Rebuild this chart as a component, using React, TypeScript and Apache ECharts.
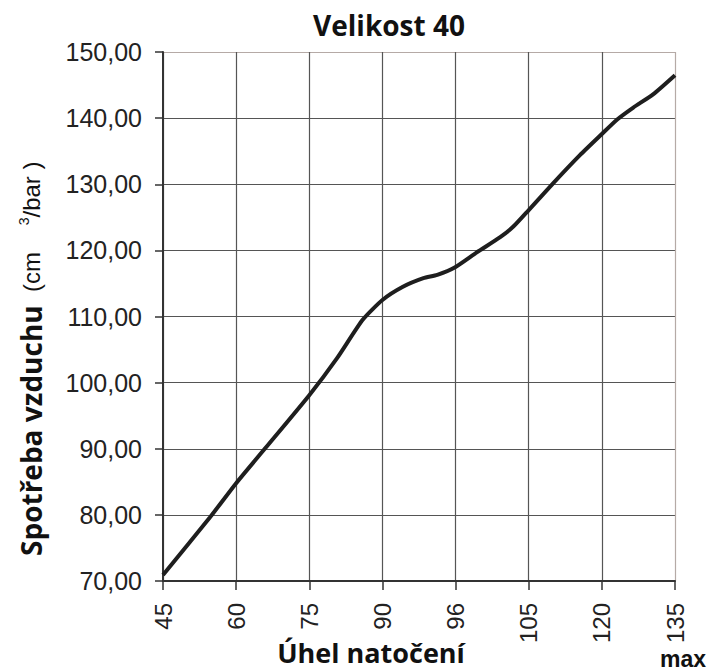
import React, { useEffect, useRef } from "react";
import * as echarts from "echarts";

// Tick labels of the angle axis (equally spaced categories)
const angleTicks = ["45", "60", "75", "90", "96", "105", "120", "135"];
// Curve points: position along the category axis (index) and air consumption
const curvePos = [0, 0.64, 1, 1.4, 2, 2.38, 2.73, 3, 3.28, 3.56, 3.75, 4, 4.29, 4.61, 4.79, 5, 5.33, 5.7, 6, 6.21, 6.43, 6.7, 7];
const airUse = [70.9, 79.6, 84.8, 90.1, 98.1, 103.7, 109.5, 112.5, 114.5, 115.8, 116.3, 117.5, 119.7, 122.0, 123.6, 126.1, 130.1, 134.4, 137.6, 139.8, 141.6, 143.6, 146.5];
// Y axis range
const yMin = 70;
const yMax = 150;
const yStep = 10;

const titleText = "Velikost 40";
const xName = "Úhel natočení";
const yNameMain = "Spotřeba vzduchu";

const GRID_DARK = "#555555";
const GRID_EDGE = "#b5aaa6";

export default function App() {
  const ref = useRef<HTMLDivElement>(null);
  useEffect(() => {
    if (!ref.current) return;
    const chart = echarts.init(ref.current, undefined, { renderer: "svg" });
    const xColors = angleTicks.map((_, i) => (i === angleTicks.length - 1 ? GRID_EDGE : GRID_DARK));
    const yCount = (yMax - yMin) / yStep + 1;
    const yColors = Array.from({ length: yCount }, (_, i) => (i === yCount - 1 ? GRID_EDGE : GRID_DARK));
    const armFont = "'Liberation Sans', Arial, sans-serif";
    const boldFont = "'Open Sans', 'Noto Sans', sans-serif";
    chart.setOption({
      animation: false,
      backgroundColor: "#ffffff",
      grid: { left: 163, right: 38, top: 52, bottom: 90, containLabel: false },
      xAxis: {
        type: "value",
        min: 0,
        max: angleTicks.length - 1,
        interval: 1,
        axisLine: { show: true, onZero: false, lineStyle: { color: "#333333", width: 2 } },
        axisTick: { show: true, length: 9, lineStyle: { color: "#333333", width: 1.5 } },
        axisLabel: {
          rotate: 90,
          margin: 22,
          fontSize: 24,
          fontFamily: armFont,
          color: "#222222",
          formatter: (v: number) => angleTicks[Math.round(v)] ?? "",
        },
        splitLine: { show: true, lineStyle: { color: xColors, width: 1.2 } },
      },
      yAxis: {
        type: "value",
        min: yMin,
        max: yMax,
        interval: yStep,
        axisLine: { show: true, onZero: false, lineStyle: { color: "#333333", width: 2 } },
        axisTick: { show: true, length: 8, lineStyle: { color: "#333333", width: 1.5 } },
        axisLabel: {
          margin: 21,
          fontSize: 25,
          fontFamily: armFont,
          color: "#222222",
          formatter: (v: number) => v.toFixed(2).replace(".", ","),
        },
        splitLine: { show: true, lineStyle: { color: yColors, width: 1.2 } },
      },
      series: [
        {
          type: "line",
          data: curvePos.map((p, i) => [p, airUse[i]]),
          smooth: 0.2,
          showSymbol: false,
          lineStyle: { color: "#1e1e1e", width: 4 },
          z: 5,
        },
      ],
      graphic: [
        {
          type: "text",
          x: 389,
          y: 25,
          style: {
            text: titleText,
            align: "center",
            verticalAlign: "middle",
            font: `bold 28px ${boldFont}`,
            fill: "#111111",
          },
        },
        {
          type: "text",
          x: 371,
          y: 652,
          style: {
            text: xName,
            align: "center",
            verticalAlign: "middle",
            font: `bold 27px ${boldFont}`,
            fill: "#111111",
          },
        },
        {
          type: "text",
          x: 683,
          y: 659,
          style: {
            text: "max",
            align: "center",
            verticalAlign: "middle",
            font: `bold 23px ${armFont}`,
            fill: "#111111",
          },
        },
        {
          type: "text",
          x: 31,
          y: 556,
          rotation: Math.PI / 2,
          style: {
            text: `{a|${yNameMain}}{b|  (cm    }{s|3}{b|/bar )}`,
            align: "left",
            verticalAlign: "middle",
            fill: "#111111",
            rich: {
              a: { fontSize: 28, fontWeight: "bold", fontFamily: boldFont, fill: "#111111", color: "#111111" },
              b: { fontSize: 24, fontFamily: armFont, fill: "#111111", color: "#111111" },
              s: { fontSize: 14, fontFamily: armFont, verticalAlign: "top", fill: "#111111", color: "#111111" },
            },
          },
        },
      ],
    });
    return () => chart.dispose();
  }, []);
  return (
    <div
      ref={ref}
      style={{ position: "fixed", left: 0, top: 0, width: 713, height: 671, background: "#fff" }}
    />
  );
}
